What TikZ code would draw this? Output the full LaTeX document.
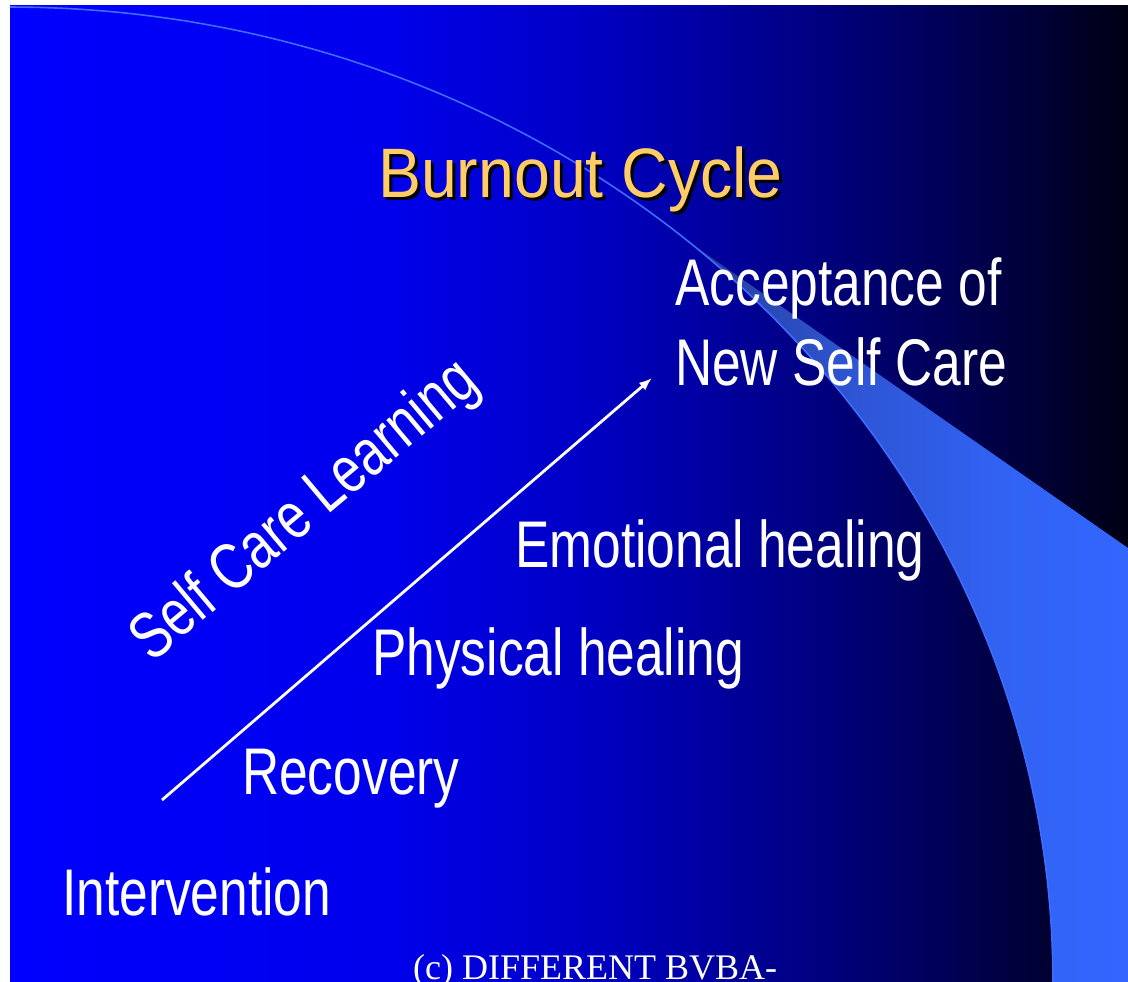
\documentclass[tikz,border=0pt]{standalone}
\usepackage{fontspec}
\usepackage{xcolor}
\usepackage{tikz}
\usetikzlibrary{arrows.meta}
\usetikzlibrary{positioning}

\newfontfamily\slidefont[FakeStretch=0.78]{Liberation Sans}
\newfontfamily\titlefont[FakeStretch=0.92]{Liberation Sans}
\newfontfamily\footerfont{Liberation Serif}

\definecolor{titleyellow}{RGB}{255,204,102}
\definecolor{arcblue}{RGB}{61,108,255}
\definecolor{bgA}{RGB}{0,0,255}
\definecolor{bgB}{RGB}{0,0,235}
\definecolor{bgC}{RGB}{0,0,195}
\definecolor{bgD}{RGB}{0,0,135}
\definecolor{bgE}{RGB}{0,0,70}
\definecolor{bgF}{RGB}{0,0,20}
\definecolor{swA}{RGB}{35,55,140}
\definecolor{swB}{RGB}{42,72,180}
\definecolor{swC}{RGB}{46,86,215}
\definecolor{swD}{RGB}{49,98,242}
\definecolor{swE}{RGB}{51,102,255}

\pgfdeclarehorizontalshading{slidebackground}{100bp}{color(0bp)=(bgA); color(25bp)=(bgA); color(42bp)=(bgB); color(51bp)=(bgC); color(60bp)=(bgD); color(69bp)=(bgE); color(75bp)=(bgF); color(100bp)=(bgF)}
\pgfdeclarehorizontalshading{swooshfill}{100bp}{color(0bp)=(swA); color(25bp)=(swA); color(33bp)=(swB); color(45bp)=(swC); color(60bp)=(swD); color(75bp)=(swE); color(100bp)=(swE)}

\begin{document}
\begin{tikzpicture}[x=1pt, y=-1pt,
    slide text/.style={text=white, inner sep=0pt, anchor=base west, font=\slidefont\fontsize{66}{80}\selectfont},
    title text/.style={text=titleyellow, inner sep=0pt, anchor=base west, font=\titlefont\fontsize{70}{84}\selectfont},
    footer text/.style={text=white, inner sep=0pt, anchor=base west, font=\footerfont\fontsize{36}{40}\selectfont},
    growth arrow/.style={white, line width=2.8pt, -{Latex[length=13pt, width=10pt]}}]
\useasboundingbox (0,0) rectangle (1128,982);
\fill [white] (0,0) rectangle (1128,982);

% slide background and the swoosh
\shade [shading=slidebackground] (10,6) rectangle (1128,982);
\shade [shading=swooshfill] plot[domain=-49.3:0, samples=60] ({10+1043*cos(\x)}, {982+975*sin(\x)}) -- (1128,982) -- (1128,548) -- cycle;
\draw [arcblue, line width=1.6pt] plot[domain=-90:0, samples=120] ({10+1043*cos(\x)}, {982+975*sin(\x)});

\node (title shadow) [title text, text=black] at (381,200) {Burnout Cycle};
\node (title) [title text] at (378,197) {Burnout Cycle};

\node (acceptance) [slide text] at (675,305) {Acceptance of};
\node (new self care) [slide text] at ([yshift=-80pt]acceptance.base west) {New Self Care};
\node (emotional) [slide text] at (515,567) {Emotional healing};
\node (physical) [slide text] at (372,675) {Physical healing};
\node (recovery) [slide text] at (242,794) {Recovery};
\node (intervention) [slide text] at (62,915) {Intervention};

\node (self care learning) [slide text, anchor=center, rotate=40] at (306,512) {Self Care Learning};

\coordinate (arrow tail) at (162,800);
\coordinate (arrow head) at (652,378);
\draw [growth arrow] (arrow tail) -- (arrow head);

\node (footer) [footer text] at (413,979) {(c) DIFFERENT BVBA-};

\end{tikzpicture}
\end{document}
